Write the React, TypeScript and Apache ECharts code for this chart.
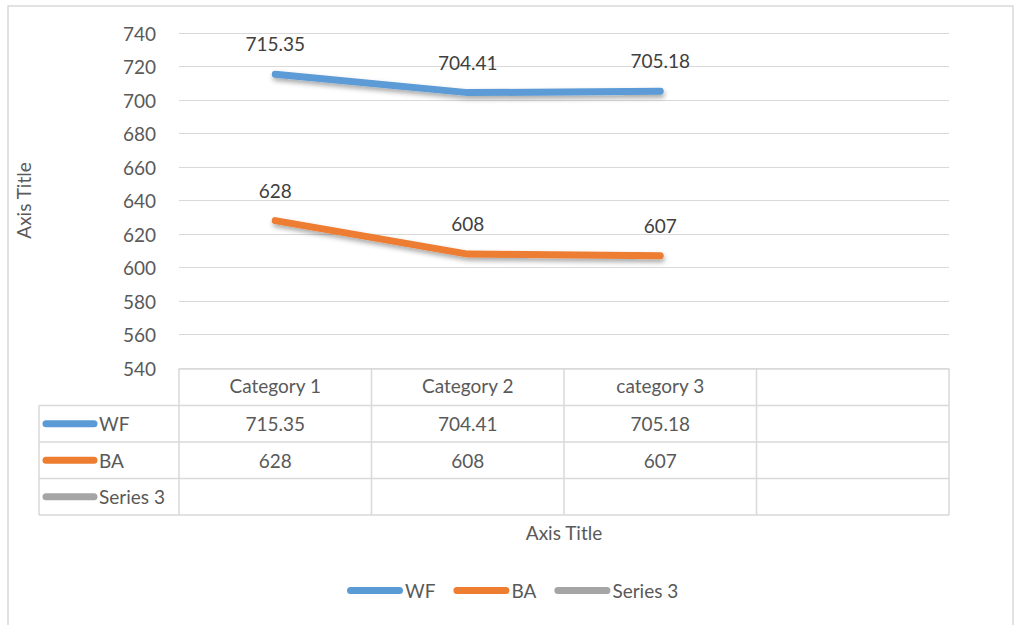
import React, { useEffect, useRef } from "react";
import * as echarts from "echarts";

const categories = ["Category 1", "Category 2", "category 3", ""];
const seriesNames = ["WF", "BA", "Series 3"];
const wfValues = [715.35, 704.41, 705.18];
const baValues = [628, 608, 607];
const series3Values: number[] = [];
const seriesColors = ["#5B9BD5", "#ED7D31", "#A5A5A5"];
const yMin = 540;
const yMax = 740;
const yInterval = 20;
const yAxisTitle = "Axis Title";
const xAxisTitle = "Axis Title";

const FONT = "Lato, 'Open Sans', sans-serif";
const TEXT = "#595959";
const GRID = "#d9d9d9";

export default function App() {
  const ref = useRef<HTMLDivElement>(null);
  useEffect(() => {
    if (!ref.current) return;
    const chart = echarts.init(ref.current, null, { renderer: "svg" });
    const allValues = [wfValues, baValues, series3Values];
    const gridLeft = 179;
    const gridRight = 949;
    const gridTop = 33;
    const gridBottom = 368;
    chart.setOption({
      animation: false,
      backgroundColor: "#ffffff",
      textStyle: { fontFamily: FONT },
      color: seriesColors,
      grid: { left: gridLeft, right: 1014 - gridRight, top: gridTop, bottom: 625 - gridBottom },
      legend: {
        left: 342,
        top: 576,
        itemGap: 18,
        itemWidth: 56,
        itemHeight: 7,
        icon: "path://M3.5,0 H52.5 A3.5,3.5 0 0 1 52.5,7 H3.5 A3.5,3.5 0 0 1 3.5,0 Z",
        textStyle: { fontFamily: FONT, fontSize: 19, color: TEXT, padding: [0, 0, 0, -3] },
        data: seriesNames,
      },
      xAxis: {
        type: "category",
        data: categories,
        boundaryGap: true,
        axisLine: { show: true, lineStyle: { color: GRID, width: 1 } },
        axisTick: { show: false },
        axisLabel: { color: TEXT, fontSize: 19, fontFamily: FONT, margin: 8, interval: 0 },
        name: xAxisTitle,
        nameLocation: "middle",
        nameGap: 155,
        nameTextStyle: { color: TEXT, fontSize: 19, fontFamily: FONT },
      },
      yAxis: {
        type: "value",
        min: yMin,
        max: yMax,
        interval: yInterval,
        axisLine: { show: false },
        axisTick: { show: false },
        splitLine: { lineStyle: { color: GRID, width: 1 } },
        axisLabel: { color: TEXT, fontSize: 19, fontFamily: FONT, margin: 23 },
        name: yAxisTitle,
        nameLocation: "middle",
        nameGap: 146,
        nameRotate: 90,
        nameTextStyle: { color: TEXT, fontSize: 19, fontFamily: FONT },
      },
      series: seriesNames.map((name, i) => ({
        name,
        type: "line",
        data: allValues[i],
        symbol: "circle",
        symbolSize: 0.1,
        showSymbol: true,
        itemStyle: { color: seriesColors[i] },
        lineStyle: {
          width: 7,
          color: seriesColors[i],
          cap: "round",
          join: "round",
          shadowBlur: 5,
          shadowColor: "rgba(0,0,0,0.35)",
          shadowOffsetY: 3,
          shadowOffsetX: 1,
        },
        label: {
          show: true,
          position: "top",
          distance: 21,
          fontSize: 19,
          fontFamily: FONT,
          color: "#404040",
        },
      })),
    });

    // Build data table from axis geometry
    const c0 = chart.convertToPixel({ xAxisIndex: 0 }, 0) as number;
    const c1 = chart.convertToPixel({ xAxisIndex: 0 }, 1) as number;
    const band = c1 - c0;
    const tableLeftX = 39;
    const firstColX = c0 - band / 2;
    const rowH = 36.5;
    const headerTop = gridBottom + 1;
    const rowTops = [headerTop, headerTop + rowH, headerTop + 2 * rowH, headerTop + 3 * rowH];
    const tableBottom = headerTop + 4 * rowH;
    const lastColX = firstColX + band * categories.length;
    const ls = { stroke: GRID, lineWidth: 1.5 };
    const g: any[] = [];
    // outer chart border
    g.push({
      type: "rect",
      shape: { x: 8, y: 6, width: 1005, height: 640 },
      style: { fill: "none", stroke: "#d9d9d9", lineWidth: 1.5 },
      silent: true,
    });
    // horizontal lines
    g.push({ type: "line", shape: { x1: firstColX, y1: headerTop, x2: lastColX, y2: headerTop }, style: ls });
    for (let r = 1; r <= 4; r++) {
      const y = headerTop + r * rowH;
      g.push({ type: "line", shape: { x1: tableLeftX, y1: y, x2: lastColX, y2: y }, style: ls });
    }
    // vertical lines
    g.push({ type: "line", shape: { x1: tableLeftX, y1: rowTops[1], x2: tableLeftX, y2: tableBottom }, style: ls });
    for (let c = 0; c <= categories.length; c++) {
      const x = firstColX + c * band;
      g.push({ type: "line", shape: { x1: x, y1: headerTop, x2: x, y2: tableBottom }, style: ls });
    }
    // rows
    seriesNames.forEach((name, i) => {
      const cy = rowTops[i + 1] + rowH / 2;
      g.push({
        type: "line",
        shape: { x1: 46, y1: cy, x2: 94, y2: cy },
        style: { stroke: seriesColors[i], lineWidth: 7, lineCap: "round" },
      });
      g.push({
        type: "text",
        x: 99,
        y: cy,
        style: { text: name, fill: TEXT, font: `19px ${FONT}`, textAlign: "left", textVerticalAlign: "middle" },
      });
      allValues[i].forEach((v, j) => {
        const x = chart.convertToPixel({ xAxisIndex: 0 }, j) as number;
        g.push({
          type: "text",
          x,
          y: cy,
          style: { text: String(v), fill: TEXT, font: `19px ${FONT}`, textAlign: "center", textVerticalAlign: "middle" },
        });
      });
    });
    chart.setOption({ graphic: g });
    return () => chart.dispose();
  }, []);
  return (
    <div
      ref={ref}
      style={{ position: "absolute", left: 0, top: 0, width: 1014, height: 625 }}
    />
  );
}
